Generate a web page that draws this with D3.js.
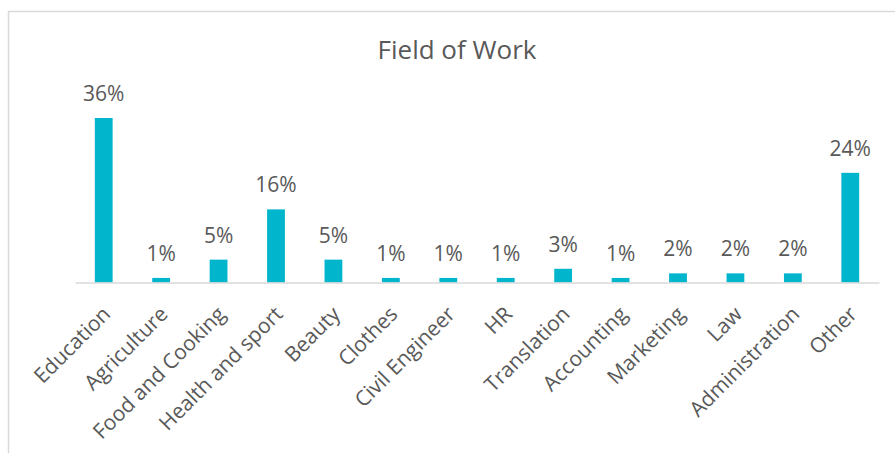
<!DOCTYPE html>
<html>
<head>
<meta charset="utf-8">
<script src="https://cdn.jsdelivr.net/npm/d3@7"></script>
<style>
  html, body { margin: 0; padding: 0; background: #fff; }
  svg { display: block; }
  text { font-family: "Open Sans", sans-serif; fill: #595959; }
</style>
</head>
<body>
<svg id="chart" width="895" height="453"></svg>
<script>
// Field of work shares (percent)
const categories = ["Education", "Agriculture", "Food and Cooking", "Health and sport", "Beauty",
  "Clothes", "Civil Engineer", "HR", "Translation", "Accounting", "Marketing", "Law",
  "Administration", "Other"];
const shares = [36, 1, 5, 16, 5, 1, 1, 1, 3, 1, 2, 2, 2, 24];
const chartTitle = "Field of Work";

const svg = d3.select("#chart");

// chart frame (only the top and left edges fall inside the view)
svg.append("rect")
  .attr("x", 8.5).attr("y", 11.5)
  .attr("width", 1000).attr("height", 1000)
  .attr("fill", "none").attr("stroke", "#d9d9d9").attr("stroke-width", 1.5);

const baseY = 282.5;
const x = d3.scaleBand().domain(categories).range([75, 879]).paddingInner(0.69).paddingOuter(0.345);
const y = d3.scaleLinear().domain([0, 36]).range([baseY, 118]);

svg.append("text")
  .attr("x", 457).attr("y", 59)
  .attr("text-anchor", "middle")
  .attr("font-size", 26)
  .text(chartTitle);

const data = categories.map((c, i) => ({ c, v: shares[i] }));

svg.selectAll("rect.bar").data(data).join("rect")
  .attr("class", "bar")
  .attr("x", d => x(d.c))
  .attr("width", x.bandwidth())
  .attr("y", d => y(d.v))
  .attr("height", d => baseY - y(d.v))
  .attr("fill", "#00b5cc");

svg.selectAll("text.val").data(data).join("text")
  .attr("class", "val")
  .attr("x", d => x(d.c) + x.bandwidth() / 2)
  .attr("y", d => y(d.v) - 17)
  .attr("text-anchor", "middle")
  .attr("font-size", 21)
  .text(d => d.v + "%");

// category axis
const axis = d3.axisBottom(x).tickSize(0).tickPadding(0);
const gx = svg.append("g").attr("transform", `translate(0,${baseY})`).call(axis);
gx.select(".domain").attr("stroke", "#d9d9d9").attr("stroke-width", 1.5);
gx.selectAll(".tick text")
  .attr("font-size", 21)
  .attr("fill", "#595959")
  .attr("font-family", "Open Sans, sans-serif")
  .attr("text-anchor", "end")
  .attr("dy", 0)
  .attr("y", 0)
  .attr("transform", "translate(8,33) rotate(-45)");
</script>
</body>
</html>
